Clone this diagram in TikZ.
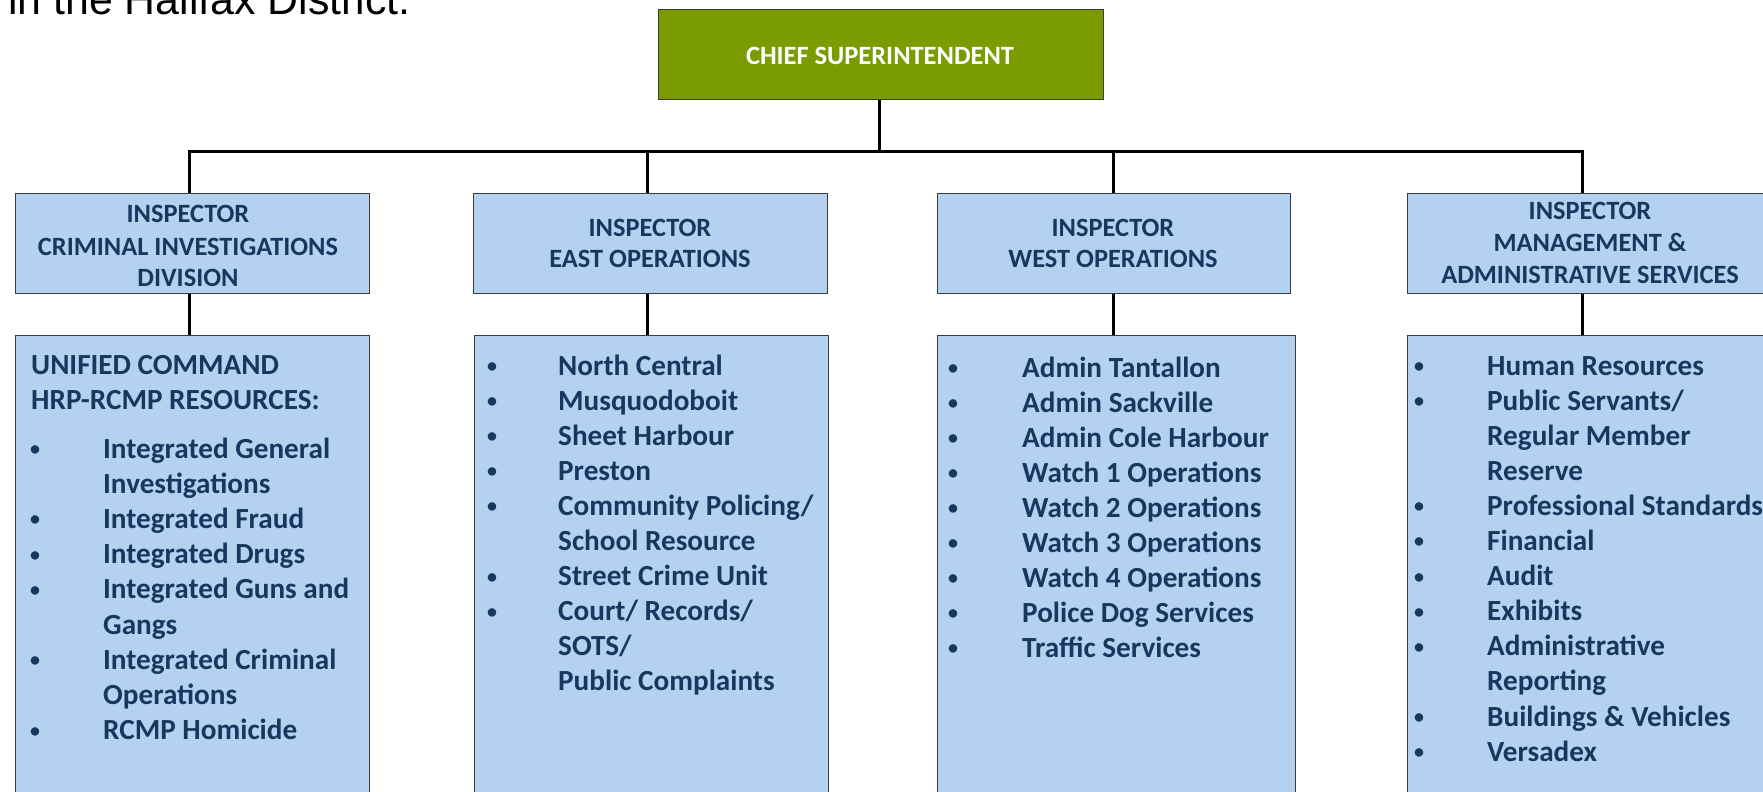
\documentclass[tikz,border=0pt]{standalone}
\usepackage{fontspec}
\setmainfont{Carlito}
\newfontfamily\arialfont{Liberation Sans}
\definecolor{chiefgreen}{RGB}{122,156,0}
\definecolor{boxblue}{RGB}{180,210,240}
\definecolor{navy}{RGB}{23,55,94}
\definecolor{edgegray}{RGB}{60,60,60}
\newcommand{\smallbul}{\raisebox{2.6pt}{\fontsize{20}{20}\selectfont\textbullet}}
\begin{document}
\begin{tikzpicture}[x=1bp,y=-1bp,
  box/.style={draw=edgegray, line width=1.2bp, fill=boxblue, inner sep=0pt, anchor=north west},
  conn/.style={line width=3bp, black},
  head/.style={inner sep=0pt, anchor=base, text=navy, font=\bfseries\fontsize{26.5}{32}\selectfont},
  item/.style={inner sep=0pt, anchor=base west, text=navy, font=\bfseries\fontsize{29.3}{35}\selectfont},
]
\useasboundingbox (0,0) rectangle (1763,792);
\fill[white] (0,0) rectangle (1763,792);

\node[anchor=base west, inner sep=0pt, font=\arialfont\fontsize{43}{50}\selectfont] (intro) at (8,15) {in the Halifax District.};

% boxes
\node[box, fill=chiefgreen, minimum width=445bp, minimum height=90bp] (chief) at (658,9) {};
\node[box, minimum width=354bp, minimum height=100bp] (b1) at (15,193) {};
\node[box, minimum width=354bp, minimum height=100bp] (b2) at (473,193) {};
\node[box, minimum width=353bp, minimum height=100bp] (b3) at (937,193) {};
\node[box, minimum width=366bp, minimum height=100bp] (b4) at (1407,193) {};
\node[box, minimum width=354bp, minimum height=470bp] (c1) at (15,335) {};
\node[box, minimum width=354bp, minimum height=470bp] (c2) at (474,335) {};
\node[box, minimum width=358bp, minimum height=470bp] (c3) at (937,335) {};
\node[box, minimum width=366bp, minimum height=470bp] (c4) at (1407,335) {};

% connectors
\coordinate (sA) at (189,151);
\coordinate (sB) at (647,151);
\coordinate (sC) at (1113,151);
\coordinate (sD) at (1582,151);
\coordinate (sM) at (879,151);
\draw[conn] (sM |- chief.south) -- (sM);
\draw[conn] (sA |- b1.north) -- (sA) -- (sD) -- (sD |- b4.north);
\draw[conn] (sB) -- (sB |- b2.north);
\draw[conn] (sC) -- (sC |- b3.north);
\draw[conn] (sA |- b1.south) -- (sA |- c1.north);
\draw[conn] (sB |- b2.south) -- (sB |- c2.north);
\draw[conn] (sC |- b3.south) -- (sC |- c3.north);
\draw[conn] (sD |- b4.south) -- (sD |- c4.north);

% chief text
\node[head, text=white] (chieft) at (880,65) {CHIEF SUPERINTENDENT};

% level 2 texts
\node[head] (h1a) at (188,222) {INSPECTOR};
\node[head] (h1b) at (188,255) {CRIMINAL INVESTIGATIONS};
\node[head] (h1c) at (188,286) {DIVISION};
\node[head] (h2a) at (650,236) {INSPECTOR};
\node[head] (h2b) at (650,267) {EAST OPERATIONS};
\node[head] (h3a) at (1113,236) {INSPECTOR};
\node[head] (h3b) at (1113,267) {WEST OPERATIONS};
\node[head] (h4a) at (1590,219) {INSPECTOR};
\node[head] (h4b) at (1590,251) {MANAGEMENT \&};
\node[head] (h4c) at (1590,283) {ADMINISTRATIVE SERVICES};

% list 1
\node[item] (u1) at (31,374) {UNIFIED COMMAND};
\node[item] (u2) at (31,409) {HRP-RCMP RESOURCES:};
\foreach \b/\t [count=\i from 0] in {1/{Integrated General}, 0/{Investigations}, 1/{Integrated Fraud}, 1/{Integrated Drugs}, 1/{Integrated Guns and}, 0/{Gangs}, 1/{Integrated Criminal}, 0/{Operations}, 1/{RCMP Homicide}} {
  \node[item] (la\i) at (103,458+\i*35.2) {\t};
  \ifnum\b=1 \node[item] (lab\i) at (30,458+\i*35.2) {\smallbul}; \fi
}
% list 2
\foreach \b/\t [count=\i from 0] in {1/{North Central}, 1/{Musquodoboit}, 1/{Sheet Harbour}, 1/{Preston}, 1/{Community Policing/}, 0/{School Resource}, 1/{Street Crime Unit}, 1/{Court/ Records/}, 0/{SOTS/}, 0/{Public Complaints}} {
  \node[item] (lb\i) at (558,375+\i*35.1) {\t};
  \ifnum\b=1 \node[item] (lbb\i) at (487,375+\i*35.1) {\smallbul}; \fi
}
% list 3
\foreach \b/\t [count=\i from 0] in {1/{Admin Tantallon}, 1/{Admin Sackville}, 1/{Admin Cole Harbour}, 1/{Watch 1 Operations}, 1/{Watch 2 Operations}, 1/{Watch 3 Operations}, 1/{Watch 4 Operations}, 1/{Police Dog Services}, 1/{Traffic Services}} {
  \node[item] (lc\i) at (1022,377+\i*35) {\t};
  \ifnum\b=1 \node[item] (lcb\i) at (948,377+\i*35) {\smallbul}; \fi
}
% list 4
\foreach \b/\t [count=\i from 0] in {1/{Human Resources}, 1/{Public Servants/}, 0/{Regular Member}, 0/{Reserve}, 1/{Professional Standards}, 1/{Financial}, 1/{Audit}, 1/{Exhibits}, 1/{Administrative}, 0/{Reporting}, 1/{Buildings \& Vehicles}, 1/{Versadex}} {
  \node[item] (ld\i) at (1487,375+\i*35.1) {\t};
  \ifnum\b=1 \node[item] (ldb\i) at (1414,375+\i*35.1) {\smallbul}; \fi
}
\end{tikzpicture}
\end{document}
